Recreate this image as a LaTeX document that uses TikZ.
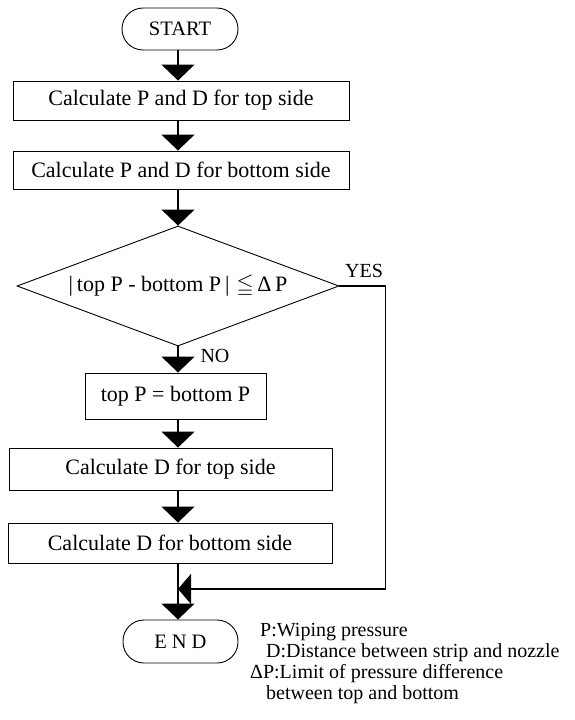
\documentclass[tikz,border=0pt]{standalone}
\usepackage{fontspec}
\usepackage{amssymb}
\setmainfont{Liberation Serif}
\usetikzlibrary{positioning, shapes.geometric, arrows.meta}

\begin{document}
\begin{tikzpicture}[x=1pt, y=-1pt,
  box/.style={draw, line width=0.9pt, inner sep=0pt, font=\fontsize{22}{26}\selectfont},
  term/.style={draw, line width=0.9pt, rounded corners=21pt, minimum width=116pt, minimum height=42pt, font=\fontsize{20.5}{24}\selectfont},
  flow/.style={line width=1.2pt, -{Triangle[width=33pt,length=16pt]}},
  legend/.style={anchor=west, inner sep=0pt, font=\fontsize{20}{24}\selectfont}]
\useasboundingbox (0,0) rectangle (574,720);

% Start and end
\node[term] (start) at (180,29) {START};
\node[term, minimum width=115pt, minimum height=43pt] (end) at (180.5,641.5) {E\hspace{5pt}N\hspace{5pt}D};

% Steps
\node[box, minimum width=336pt, minimum height=39pt] (calc1) at (181,100.5) {Calculate P and D for top side};
\node[box, minimum width=336pt, minimum height=38pt] (calc2) at (181,170) {Calculate P and D for bottom side};
\node[draw, line width=0.9pt, shape=diamond, aspect=2.68, minimum width=322pt, minimum height=120pt, inner sep=0pt, font=\fontsize{22}{26}\selectfont] (check) at (178,286) {|\hspace{4pt}top P - bottom P\hspace{4pt}|\hspace{7pt}$\leqq$\,Δ\,P};
\node[box, minimum width=181pt, minimum height=46pt] (set) at (175.5,396) {top P = bottom P};
\node[box, minimum width=323pt, minimum height=42pt] (calc3) at (170.5,469) {Calculate D for top side};
\node[box, minimum width=324pt, minimum height=40pt] (calc4) at (170,543) {Calculate D for bottom side};

% Branch labels
\node[font=\fontsize{20}{24}\selectfont] (yes) at (364,271) {YES};
\node[font=\fontsize{20}{24}\selectfont] (no) at (215,356) {NO};

% Flow
\draw[flow] (start.south -| 178,0) -- (calc1.north -| 178,0);
\draw[flow] (calc1.south -| 178,0) -- (calc2.north -| 178,0);
\draw[flow] (calc2.south -| 178,0) -- (check.north);
\draw[flow] (check.south) -- (check.south |- set.north);
\draw[flow] (set.south -| 178,0) -- (calc3.north -| 178,0);
\draw[flow] (calc3.south -| 178,0) -- (calc4.north -| 178,0);
\draw[flow] (calc4.south -| 178,0) -- (end.north -| 178,0);

% YES branch back to the end
\coordinate (join) at (178,589);
\draw[line width=1.2pt, -{Triangle[width=30pt,length=13pt]}] (check.east) -- ++(46,0) |- (join);

% Legend
\node[legend] (leg1) at (260,632) {P:Wiping pressure};
\node[legend] (leg2) at (266,653) {D:Distance between strip and nozzle};
\node[legend] (leg3) at (250,674) {ΔP:Limit of pressure difference};
\node[legend] (leg4) at (266,695) {between top and bottom};

\end{tikzpicture}
\end{document}
